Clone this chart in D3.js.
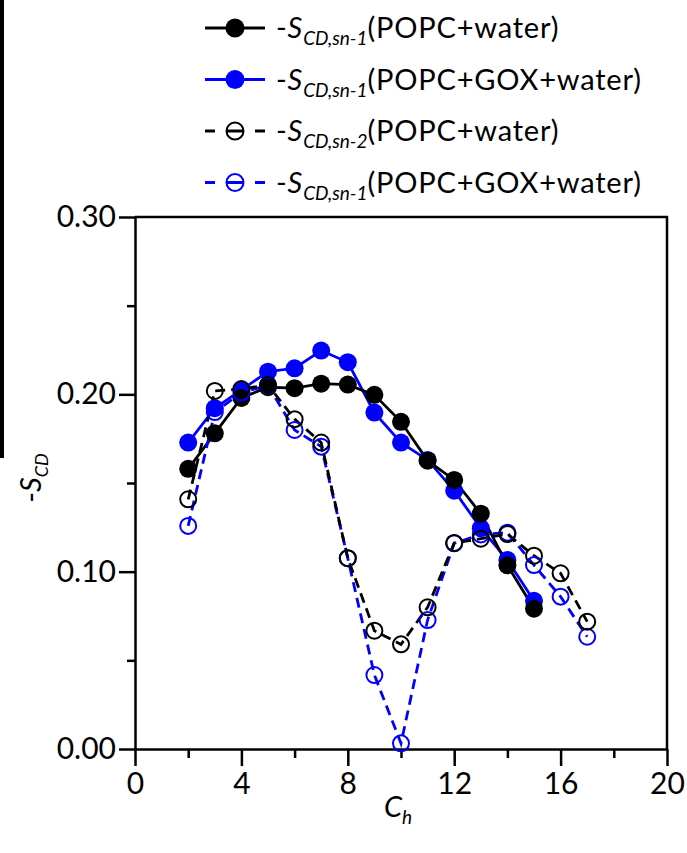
<!DOCTYPE html>
<html>
<head>
<meta charset="utf-8">
<script src="https://cdn.jsdelivr.net/npm/d3@7"></script>
<style>
  body { margin: 0; background: #fff; }
  svg { display: block; font-family: Lato, "Open Sans", sans-serif; }
</style>
</head>
<body>
<div id="chart"></div>
<script>
// carbon index along the acyl chains
const chainA = [2, 3, 4, 5, 6, 7, 8, 9, 10, 11, 12, 13, 14, 15]
const chainB = [2, 3, 4, 5, 6, 7, 8, 9, 10, 11, 12, 13, 14, 15, 16, 17]

// order parameters
const popcSn1 = [0.158, 0.178, 0.198, 0.204, 0.2035, 0.206, 0.2055, 0.1997, 0.1845, 0.1626, 0.1517, 0.1327, 0.1036, 0.0791]
const goxSn1 = [0.1728, 0.1922, 0.2025, 0.2128, 0.2147, 0.2247, 0.2181, 0.1897, 0.1728, 0.163, 0.1457, 0.1245, 0.1066, 0.0836]
const popcSn2 = [0.1408, 0.2019, 0.203, 0.2053, 0.186, 0.1728, 0.1076, 0.0667, 0.059, 0.0799, 0.1162, 0.1186, 0.1212, 0.109, 0.0991, 0.0718]
const goxSn2 = [0.1258, 0.19, 0.201, 0.205, 0.1799, 0.1705, 0.1076, 0.0417, 0.0032, 0.0727, 0.116, 0.121, 0.122, 0.1037, 0.0859, 0.0633]

const xMajor = [0, 4, 8, 12, 16, 20]
const xMinor = [2, 6, 10, 14, 18]
const yMajor = [0, 0.1, 0.2, 0.3]
const yMinor = [0.05, 0.15, 0.25]

const series = [
    { xs: chainA, ys: goxSn1, colour: "#0000ff", filled: true, sub: "CD,sn-1", name: "(POPC+GOX+water)" },
    { xs: chainA, ys: popcSn1, colour: "#000000", filled: true, sub: "CD,sn-1", name: "(POPC+water)" },
    { xs: chainB, ys: goxSn2, colour: "#0000ff", filled: false, sub: "CD,sn-1", name: "(POPC+GOX+water)" },
    { xs: chainB, ys: popcSn2, colour: "#000000", filled: false, sub: "CD,sn-2", name: "(POPC+water)" }
]
const legendOrder = [1, 0, 3, 2]

const width = 687, height = 853
const margin = { top: 217, right: 20, bottom: 104, left: 135 }

const svg = d3.select("#chart")
    .append("svg")
    .attr("width", width)
    .attr("height", height)

// dark strip at the very left edge of the picture
svg.append("rect")
    .attr("x", 0).attr("y", 0)
    .attr("width", 4).attr("height", 458)
    .attr("fill", "#000")

const x = d3.scaleLinear().domain([0, 20]).range([margin.left, width - margin.right])
const y = d3.scaleLinear().domain([0, 0.3]).range([height - margin.bottom, margin.top])

const axisStyle = g => {
    g.select(".domain").attr("stroke-width", 2.5)
    g.selectAll(".tick line").attr("stroke-width", 2.5)
    g.selectAll(".tick text").attr("font-size", 30).attr("fill", "#000").attr("font-family", "Lato")
}

// frame: top and right
svg.append("path")
    .attr("d", `M${x(0)},${y(0.3)}H${x(20)}V${y(0)}`)
    .attr("fill", "none")
    .attr("stroke", "#000")
    .attr("stroke-width", 2.5)

svg.append("g")
    .attr("transform", `translate(0,${y(0)})`)
    .call(d3.axisBottom(x).tickValues(xMajor).tickSize(17).tickSizeOuter(0).tickPadding(7).tickFormat(d3.format("d")))
    .call(axisStyle)

svg.append("g")
    .attr("transform", `translate(0,${y(0)})`)
    .call(d3.axisBottom(x).tickValues(xMinor).tickSize(9).tickSizeOuter(0).tickFormat(""))
    .call(g => g.select(".domain").remove())
    .call(axisStyle)

svg.append("g")
    .attr("transform", `translate(${x(0)},0)`)
    .call(d3.axisLeft(y).tickValues(yMajor).tickSize(16).tickSizeOuter(0).tickPadding(3).tickFormat(d3.format(".2f")))
    .call(axisStyle)

svg.append("g")
    .attr("transform", `translate(${x(0)},0)`)
    .call(d3.axisLeft(y).tickValues(yMinor).tickSize(8).tickSizeOuter(0).tickFormat(""))
    .call(g => g.select(".domain").remove())
    .call(axisStyle)

// axis titles
const xTitle = svg.append("text")
    .attr("x", 398).attr("y", 817)
    .attr("text-anchor", "middle")
    .attr("font-size", 29)
    .attr("font-style", "italic")
xTitle.append("tspan").text("C")
xTitle.append("tspan").attr("font-size", 19).attr("dy", 7).text("h")

const yTitle = svg.append("text")
    .attr("transform", `translate(41,478) rotate(-90)`)
    .attr("text-anchor", "middle")
    .attr("font-size", 29)
yTitle.append("tspan").text("-")
yTitle.append("tspan").attr("font-style", "italic").text("S")
yTitle.append("tspan").attr("font-style", "italic").attr("font-size", 18).attr("dy", 7).text("CD")

// lines
const line = d3.line().x(d => x(d[0])).y(d => y(d[1]))

series.forEach(s => {
    svg.append("path")
        .datum(s.xs.map((v, i) => [v, s.ys[i]]))
        .attr("d", line)
        .attr("fill", "none")
        .attr("stroke", s.colour)
        .attr("stroke-width", 2.8)
        .attr("stroke-dasharray", s.filled ? null : "10,6")
})

// markers
series.forEach(s => {
    svg.append("g")
        .selectAll("circle")
        .data(s.xs.map((v, i) => [v, s.ys[i]]))
        .join("circle")
        .attr("cx", d => x(d[0]))
        .attr("cy", d => y(d[1]))
        .attr("r", s.filled ? 9 : 8)
        .attr("fill", s.filled ? s.colour : "none")
        .attr("stroke", s.colour)
        .attr("stroke-width", s.filled ? 0 : 2)
})

// legend
const legend = svg.append("g")
legendOrder.forEach((k, i) => {
    const s = series[k]
    const ly = 28 + i * 51.5
    const item = legend.append("g").attr("transform", `translate(0,${ly})`)
    item.append("line")
        .attr("x1", 205).attr("x2", 265)
        .attr("stroke", s.colour)
        .attr("stroke-width", 3)
        .attr("stroke-dasharray", s.filled ? null : "10,12,16,12,10")
    item.append("circle")
        .attr("cx", 235).attr("cy", 0)
        .attr("r", s.filled ? 9.5 : 8.5)
        .attr("fill", s.filled ? s.colour : "none")
        .attr("stroke", s.colour)
        .attr("stroke-width", s.filled ? 0 : 2)
    const t = item.append("text")
        .attr("x", 276).attr("y", 10)
        .attr("font-size", 29)
        .attr("letter-spacing", 0.8)
    t.append("tspan").text("-")
    t.append("tspan").attr("font-style", "italic").text("S")
    t.append("tspan").attr("font-style", "italic").attr("font-size", 19).attr("dy", 7).attr("letter-spacing", 0).text(s.sub)
    t.append("tspan").attr("dy", -7).text(s.name)
})
</script>
</body>
</html>
